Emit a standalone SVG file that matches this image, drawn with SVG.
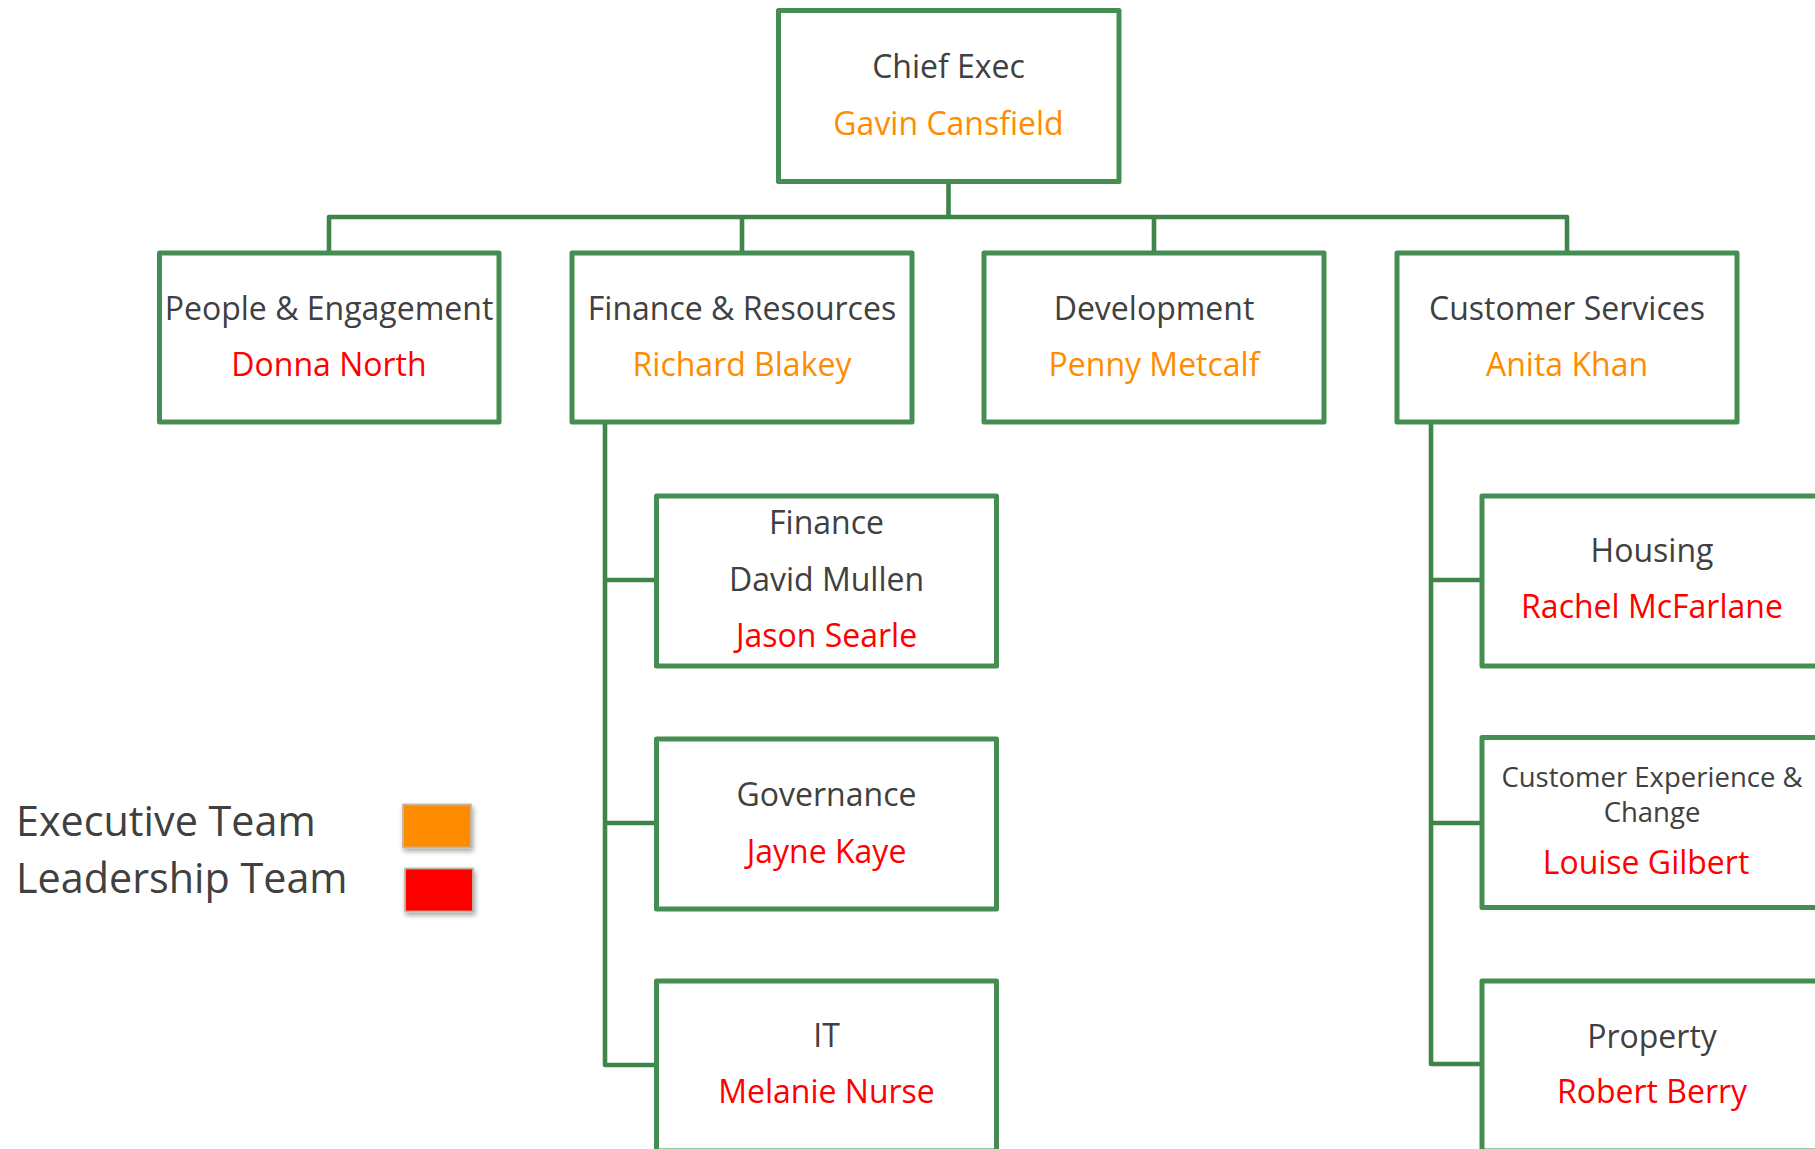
<svg xmlns="http://www.w3.org/2000/svg" width="1815" height="1149" viewBox="0 0 1815 1149">
<style>
.box{fill:#fff;stroke:#468D53;stroke-width:5;stroke-linejoin:round}
.con{fill:none;stroke:#3F8449;stroke-width:4.6;stroke-linejoin:round;stroke-linecap:round}
text{font-family:"Open Sans","Noto Sans","Liberation Sans",sans-serif;text-anchor:middle;font-size:32px}
.t{fill:#404040}
.o{fill:#FF8C00}
.r{fill:#FF0000}
.leg{fill:#404040;font-size:41.3px;text-anchor:start}
</style>
<defs>
<filter id="sh" x="-30%" y="-30%" width="160%" height="170%">
<feDropShadow dx="1.5" dy="3" stdDeviation="2.5" flood-color="#000" flood-opacity="0.35"/>
</filter>
</defs>
<rect width="1815" height="1149" fill="#fff"/>
<g id="connectors">
<path class="con" d="M948.5 182 V217 M329 217 H1567 M329 217 V253 M742 217 V253 M1154 217 V253 M1567 217 V253"/>
<path class="con" d="M605 423 V1065 H657 M605 580 H657 M605 823 H657"/>
<path class="con" d="M1431 423 V1064 H1482 M1431 580 H1482 M1431 823 H1482"/>
</g>
<g id="chief-exec">
<rect class="box" x="778.5" y="10.5" width="340.5" height="171"/>
<text class="t" x="948.5" y="78">Chief Exec</text>
<text class="o" x="948.5" y="135">Gavin Cansfield</text>
</g>
<g id="people-engagement">
<rect class="box" x="159.5" y="253" width="339.5" height="169"/>
<text class="t" x="329" y="320">People &amp; Engagement</text>
<text class="r" x="329" y="376">Donna North</text>
</g>
<g id="finance-resources">
<rect class="box" x="572" y="253" width="340" height="169"/>
<text class="t" x="742" y="320">Finance &amp; Resources</text>
<text class="o" x="742" y="376">Richard Blakey</text>
</g>
<g id="development">
<rect class="box" x="984" y="253" width="340" height="169"/>
<text class="t" x="1154" y="320">Development</text>
<text class="o" x="1154" y="376">Penny Metcalf</text>
</g>
<g id="customer-services">
<rect class="box" x="1397" y="253" width="340" height="169"/>
<text class="t" x="1567" y="320">Customer Services</text>
<text class="o" x="1567" y="376">Anita Khan</text>
</g>
<g id="finance">
<rect class="box" x="656.5" y="496" width="340" height="170"/>
<text class="t" x="826.5" y="534">Finance</text>
<text class="t" x="826.5" y="591">David Mullen</text>
<text class="r" x="826.5" y="647">Jason Searle</text>
</g>
<g id="governance">
<rect class="box" x="656.5" y="739" width="340" height="170"/>
<text class="t" x="826.5" y="806">Governance</text>
<text class="r" x="826.5" y="862.5">Jayne Kaye</text>
</g>
<g id="it">
<rect class="box" x="656.5" y="981" width="340" height="170"/>
<text class="t" x="826.5" y="1047">IT</text>
<text class="r" x="826.5" y="1103">Melanie Nurse</text>
</g>
<g id="housing">
<rect class="box" x="1482" y="496" width="340" height="170"/>
<text class="t" x="1652" y="562">Housing</text>
<text class="r" x="1652" y="618">Rachel McFarlane</text>
</g>
<g id="customer-experience">
<rect class="box" x="1482" y="737.5" width="340" height="170"/>
<text class="t" x="1652" y="787" style="font-size:27.5px">Customer Experience &amp;</text>
<text class="t" x="1652" y="822" style="font-size:27.5px">Change</text>
<text class="r" x="1646" y="874">Louise Gilbert</text>
</g>
<g id="property">
<rect class="box" x="1482" y="981" width="340" height="170"/>
<text class="t" x="1652" y="1048">Property</text>
<text class="r" x="1652" y="1103">Robert Berry</text>
</g>
<g id="legend">
<text class="leg" x="16" y="836">Executive Team</text>
<text class="leg" x="16" y="893">Leadership Team</text>
<rect x="403" y="804.5" width="68" height="43" fill="#FF8C00" stroke="#C4B6A4" stroke-width="1.8" filter="url(#sh)"/>
<rect x="405" y="868.5" width="68" height="43" fill="#FF0000" stroke="#C4B6A4" stroke-width="1.8" filter="url(#sh)"/>
</g>
</svg>
